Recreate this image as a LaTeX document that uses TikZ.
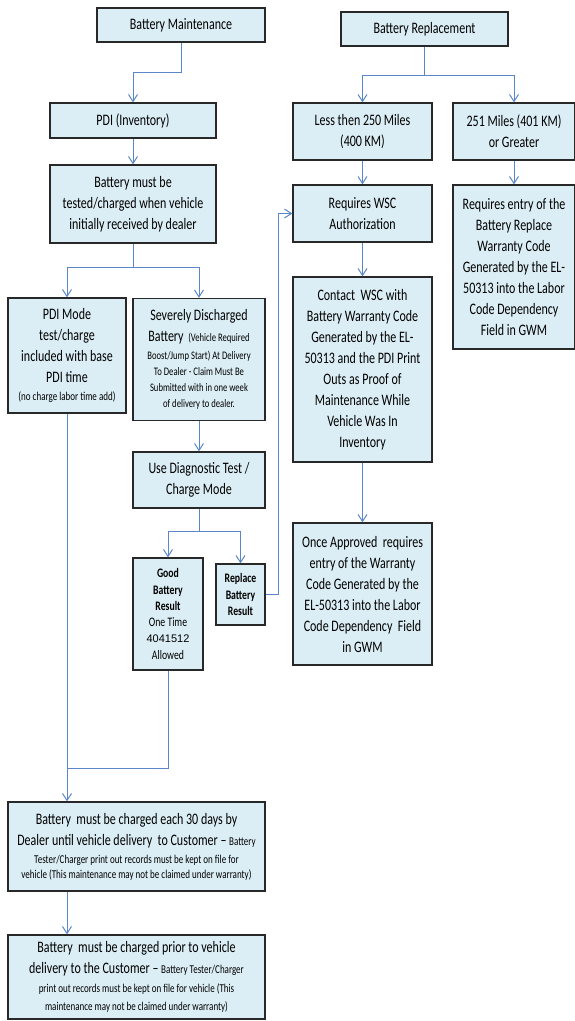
\documentclass[tikz,border=0pt]{standalone}
\usepackage{fontspec}
\setmainfont{Carlito}[FakeStretch=0.75]
\newfontfamily\arialf{Liberation Sans}
\usetikzlibrary{arrows.meta}
\definecolor{boxfill}{RGB}{220,238,245}
\definecolor{boxline}{RGB}{40,40,40}
\definecolor{connblue}{RGB}{90,135,200}
\newcommand{\bigf}{\fontsize{16}{21}\selectfont}
\newcommand{\smf}{\fontsize{12}{16}\selectfont}
\newcommand{\svf}{\fontsize{11.5}{16}\selectfont}
\newcommand{\gbf}{\fontsize{13}{16.3}\selectfont}
\begin{document}
\begin{tikzpicture}[x=1pt,y=-1pt,
  box/.style={draw=boxline, line width=1.3pt, fill=boxfill, inner sep=0pt,
    align=center, font=\bigf, text=black},
  wh/.style 2 args={minimum width=#1pt, minimum height=#2pt},
  conn/.style={draw=connblue, line width=1pt},
  arr/.style={conn, -{Straight Barb[length=7pt,width=9pt]}}]
\useasboundingbox (0,0) rectangle (575,1021);

% left column
\node[box, wh={168}{34}] (bm) at (181,25) {Battery Maintenance};
\node[box, wh={166}{35}] (pdi) at (133,120.5) {PDI (Inventory)};
\node[box, wh={166}{78}] (tested) at (133,204) {Battery must be\\ tested/charged when vehicle\\ initially received by dealer};
\node[box, wh={118}{115}] (pdimode) at (67,355.5) {PDI Mode\\ test/charge\\ included with base\\ PDI time\\[-3pt] {\smf (no charge labor time add)}};
\node[box, wh={132}{122}] (severe) at (199,359.5) {Severely Discharged\\ Battery {\svf\ (Vehicle Required}\\[-3pt]
  {\svf Boost/Jump Start) At Delivery}\\[-5pt] {\svf To Dealer - Claim Must Be}\\[-5pt]
  {\svf Submitted with in one week}\\[-5pt] {\svf of delivery to dealer.}};
\node[box, wh={132}{56}] (diag) at (199,480) {Use Diagnostic Test /\\ Charge Mode};
\node[box, wh={70}{112}, font=\gbf] (good) at (168,614) {\textbf{Good}\\ \textbf{Battery}\\ \textbf{Result}\\ One Time\\ {\arialf\fontsize{11}{16}\selectfont 4041512}\\ Allowed};
\node[box, wh={49}{61}, font=\fontsize{13}{16.5}\selectfont] (replace) at (240.5,594.5) {\textbf{Replace}\\ \textbf{Battery}\\ \textbf{Result}};

% right columns
\node[box, wh={167}{34}] (br) at (424.5,29) {Battery Replacement};
\node[box, wh={139}{57}] (less) at (362.5,131.5) {Less then 250 Miles\\ (400 KM)};
\node[box, wh={122}{57}] (g251) at (514,131.5) {251 Miles (401 KM)\\ or Greater};
\node[box, wh={139}{57}] (wsc) at (362.5,213.5) {Requires WSC\\ Authorization};
\node[box, wh={122}{164}] (entry) at (514,267) {Requires entry of the\\ Battery Replace\\ Warranty Code\\ Generated by the EL-\\ 50313 into the Labor\\ Code Dependency\\ Field in GWM};
\node[box, wh={139}{185}] (contact) at (362.5,369.5) {Contact\ \ WSC with\\ Battery Warranty Code\\ Generated by the EL-\\ 50313 and the PDI Print\\ Outs as Proof of\\ Maintenance While\\ Vehicle Was In\\ Inventory};
\node[box, wh={139}{142}] (once) at (362.5,594) {Once Approved\ \ requires\\ entry of the Warranty\\ Code Generated by the\\ EL-50313 into the Labor\\ Code Dependency\ \ Field\\ in GWM};

% bottom
\node[box, wh={257}{89}] (days) at (136.5,846.5) {Battery\ \ must be charged each 30 days by\\ Dealer until vehicle delivery\ \ to Customer \textendash\ {\smf Battery}\\[-3pt]
  {\smf Tester/Charger print out records must be kept on file for}\\[-6pt]
  {\smf vehicle (This maintenance may not be claimed under warranty)}};
\node[box, wh={257}{84}] (prior) at (136.5,977) {Battery\ \ must be charged prior to vehicle\\ delivery to the Customer \textendash\ {\smf Battery Tester/Charger}\\[-2pt]
  {\smf print out records must be kept on file for vehicle (This}\\[-3pt]
  {\smf maintenance may not be claimed under warranty)}};

% connectors
\draw[arr] (bm.south) -- ++(0,30) -| (pdi.north);
\draw[arr] (pdi.south) -- (tested.north);
\draw[arr] (tested.south) -- ++(0,24) -| (pdimode.north);
\draw[arr] (tested.south) ++(0,24) -| (severe.north);
\draw[arr] (severe.south) -- (diag.north);
\draw[arr] (diag.south) -- ++(0,23) -| (good.north);
\draw[arr] (diag.south) ++(0,23) -| (replace.north);
\draw[arr] (replace.east) -- ++(13,0) |- (wsc.west);
\coordinate (join) at (67,768);
\draw[conn] (good.south) |- (join);
\draw[arr] (pdimode.south) -- (pdimode.south |- days.north);
\draw[arr] (days.south -| pdimode.south) -- (prior.north -| pdimode.south);

\draw[arr] (br.south) -- ++(0,29) -| (less.north);
\draw[arr] (br.south) ++(0,29) -| (g251.north);
\draw[arr] (less.south) -- (wsc.north);
\draw[arr] (wsc.south) -- (contact.north);
\draw[arr] (contact.south) -- (once.north);
\draw[arr] (g251.south) -- (entry.north);
\end{tikzpicture}
\end{document}
